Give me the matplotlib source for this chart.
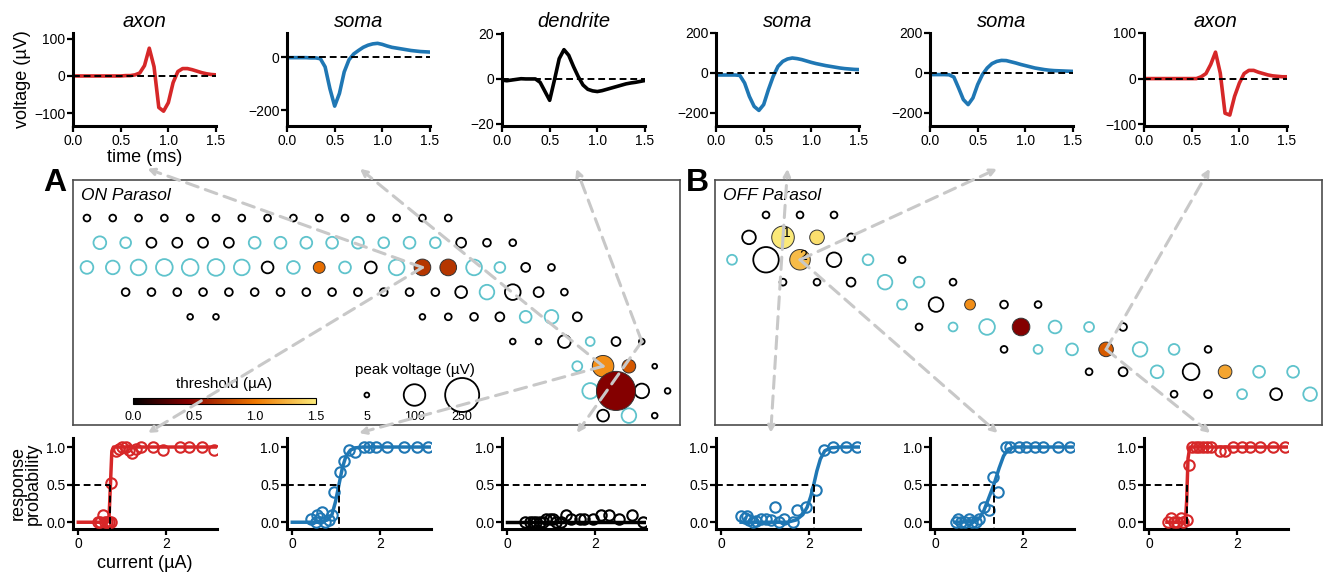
import numpy as np
import matplotlib
matplotlib.use("Agg")
import matplotlib.pyplot as plt
from matplotlib.colors import LinearSegmentedColormap, Normalize
from matplotlib.cm import ScalarMappable
from matplotlib.patches import ConnectionPatch

plt.rcParams['font.family'] = ['Liberation Sans', 'DejaVu Sans']

# ---------------- waveforms (time in ms, voltage in µV) ----------------
wave_time = [0.0, 0.05, 0.1, 0.15, 0.2, 0.25, 0.3, 0.35, 0.4, 0.45, 0.5, 0.55, 0.6,
             0.65, 0.7, 0.75, 0.8, 0.85, 0.9, 0.95, 1.0, 1.05, 1.1, 1.15, 1.2, 1.25,
             1.3, 1.35, 1.4, 1.45, 1.5]
wave_axon_on = [0, 0, 0, 0, 0, 0, 0, 0, 0, 0, 0, 1, 1,
                3, 8, 28, 75, 25, -85, -95, -72, -18, 12, 20, 20, 17,
                13, 9, 6, 4, 3]
wave_soma_on = [-2, -2, -2, -2, -2, -3, -3, -6, -37, -119, -185, -137, -56,
                -10, 12, 25, 37, 45, 50, 52, 48, 42, 37, 34, 31, 28,
                25, 23, 21, 20, 19]
wave_dend_on = [-0.5, -0.8, -0.5, -0.2, 0.1, 0, 0, 0, -1.5, -5.5, -9.5, -0.5, 9,
                13, 10.5, 5.5, 1, -2.7, -4.6, -5.3, -5.6, -5.2, -4.6, -4, -3.4, -2.8,
                -2.2, -1.8, -1.5, -1.1, -0.7]
wave_soma1_off = [-10, -10, -10, -10, -10, -12, -50, -117, -167, -187, -158, -83, -17,
                  33, 58, 70, 75, 72, 67, 60, 53, 47, 42, 37, 33, 29,
                  25, 22, 20, 18, 17]
wave_soma2_off = [-8, -8, -8, -8, -9, -20, -75, -133, -158, -125, -58, -8, 25,
                  47, 58, 63, 62, 56, 50, 43, 37, 31, 25, 21, 17, 14,
                  12, 11, 10, 9, 8]
wave_axon_off = [0, 0, 0, 0, 0, 0, 0, 0, 0, 0, 0, 0, 4,
                 11, 31, 58, 12, -76, -80, -39, -10, 11, 18, 18, 14, 11,
                 8, 6, 5, 4, 4]

wave_titles = ['axon', 'soma', 'dendrite', 'soma', 'soma', 'axon']
wave_yticks = [[-100, 0, 100], [-200, 0], [-20, 0, 20], [-200, 0, 200], [-200, 0, 200], [-100, 0, 100]]

# ---------------- response curves (current in µA) ----------------
resp_cur_axon_on = [0.45, 0.5, 0.55, 0.6, 0.65, 0.7, 0.74, 0.75, 0.85, 0.92, 1.0, 1.08,
                    1.15, 1.22, 1.3, 1.42, 1.7, 1.92, 2.3, 2.52, 2.8, 3.08]
resp_prob_axon_on = [0, 0, 0.09, 0, 0, 0, 0, 0.52, 0.95, 0.98, 1, 1,
                     0.96, 0.92, 0.98, 1, 1, 0.96, 1, 1, 1, 0.96]
resp_cur_soma_on = [0.42, 0.53, 0.55, 0.64, 0.68, 0.75, 0.83, 0.9, 0.94, 1.08, 1.18, 1.28,
                    1.43, 1.62, 1.74, 1.89, 2.15, 2.53, 2.83, 3.09]
resp_prob_soma_on = [0.04, 0, 0.09, 0.06, 0.13, 0, 0.03, 0.09, 0.4, 0.67, 0.82, 0.96,
                     0.94, 1, 1, 1, 1, 1, 1, 1]
resp_cur_dend_on = [0.4, 0.51, 0.59, 0.66, 0.74, 0.81, 0.89, 0.96, 1.04, 1.11, 1.21, 1.34,
                    1.45, 1.64, 1.75, 1.94, 2.13, 2.32, 2.54, 2.84, 3.09]
resp_prob_dend_on = [0, 0, 0, 0, 0, 0, 0.04, 0.04, 0.04, 0, 0, 0.09,
                     0.04, 0.04, 0.04, 0.04, 0.09, 0.09, 0.04, 0.09, 0]
resp_cur_soma1_off = [0.44, 0.53, 0.59, 0.64, 0.72, 0.79, 0.91, 1.02, 1.13, 1.21, 1.32, 1.43,
                      1.62, 1.72, 1.92, 2.15, 2.34, 2.53, 2.83, 3.09]
resp_prob_soma1_off = [0.08, 0.06, 0.08, 0.03, 0, 0.02, 0.04, 0.04, 0.03, 0.2, 0, 0.04,
                       0, 0.16, 0.2, 0.43, 0.96, 1, 1, 1]
resp_cur_soma2_off = [0.46, 0.52, 0.59, 0.67, 0.76, 0.83, 0.93, 1.0, 1.11, 1.22, 1.31, 1.42,
                      1.61, 1.7, 1.89, 2.07, 2.26, 2.44, 2.78, 3.05]
resp_prob_soma2_off = [0, 0.04, 0, 0, 0.04, 0, 0, 0.04, 0.2, 0.16, 0.6, 0.4,
                       1, 1, 1, 1, 1, 1, 1, 1]
resp_cur_axon_off = [0.43, 0.5, 0.56, 0.64, 0.71, 0.77, 0.85, 0.9, 0.97, 1.05, 1.12, 1.22,
                     1.31, 1.4, 1.61, 1.72, 1.91, 2.1, 2.28, 2.51, 2.81, 3.09]
resp_prob_axon_off = [0, 0.06, 0, 0, 0.06, 0, 0.03, 0.76, 1, 1, 1, 1,
                      1, 1, 0.95, 0.95, 1, 1, 1, 1, 1, 1]

# fitted curves
fit_cur_axon_on = [0, 0.66, 0.70, 0.73, 0.76, 0.80, 3.15]
fit_prob_axon_on = [0, 0, 0.08, 0.5, 0.92, 1.0, 1.0]
fit_cur_soma_on = [0, 0.6, 0.8, 0.9, 0.98, 1.06, 1.14, 1.22, 1.32, 1.45, 1.6, 3.15]
fit_prob_soma_on = [0, 0, 0.03, 0.1, 0.27, 0.5, 0.73, 0.88, 0.96, 0.99, 1.0, 1.0]
fit_cur_dend_on = [0, 3.15]
fit_prob_dend_on = [0, 0]
fit_cur_soma1_off = [0.45, 1.5, 1.7, 1.85, 1.95, 2.03, 2.1, 2.17, 2.25, 2.35, 2.5, 2.7, 3.15]
fit_prob_soma1_off = [0, 0, 0.03, 0.1, 0.2, 0.34, 0.5, 0.68, 0.84, 0.95, 0.99, 1.0, 1.0]
fit_cur_soma2_off = [0.45, 0.9, 1.0, 1.1, 1.2, 1.33, 1.45, 1.55, 1.65, 1.8, 3.15]
fit_prob_soma2_off = [0, 0.01, 0.05, 0.15, 0.3, 0.5, 0.72, 0.88, 0.97, 1.0, 1.0]
fit_cur_axon_off = [0.4, 0.82, 0.85, 0.86, 0.88, 0.92, 3.15]
fit_prob_axon_off = [0, 0, 0.3, 0.5, 0.85, 1.0, 1.0]

thresholds = [0.73, 1.06, np.nan, 2.1, 1.33, 0.86]

# ---------------- electrode maps ----------------
# ON parasol (panel A): column / row on the hexagonal array, kind (k open black,
# c open cyan, f activated), peak voltage (µV), threshold of activated electrodes (µA)
on_col = [0, 1, 2, 3, 4, 5, 6, 7, 8, 9, 10, 11, 12, 13, 14,
          0.5, 1.5, 2.5, 3.5, 4.5, 5.5, 6.5, 7.5, 8.5, 9.5, 10.5, 11.5, 12.5, 13.5, 14.5, 15.5, 16.5,
          0, 1, 2, 3, 4, 5, 6, 7, 8, 9, 10, 11, 12, 13, 14, 15, 16, 17, 18,
          1.5, 2.5, 3.5, 4.5, 5.5, 6.5, 7.5, 8.5, 9.5, 10.5, 11.5, 12.5, 13.5, 14.5, 15.5, 16.5, 17.5, 18.5,
          4, 5, 13, 14, 15, 16, 17, 18, 19,
          16.5, 17.5, 18.5, 19.5, 20.5, 21.5,
          19, 20, 21, 22,
          19.5, 20.5, 21.5, 22.5,
          20, 21, 22]
on_row = [0] * 15 + [1] * 17 + [2] * 19 + [3] * 18 + [4] * 9 + [5] * 6 + [6] * 4 + [7] * 4 + [8] * 3
on_kind = ("kkkkkkkkkkkkkkk" + "cckkkkcccccccckkk" + "ccccccckcfckcffcckk" +
           "kkkkkkkkkkkkkkckkk" + "kkkkkkcck" + "kkkckk" + "cffk" + "cfkk" + "kck")
on_peak = [10, 10, 10, 10, 10, 10, 10, 10, 10, 10, 10, 10, 10, 10, 10,
           35, 25, 21, 21, 21, 21, 30, 30, 30, 30, 30, 25, 30, 25, 21, 13, 10,
           35, 40, 53, 60, 60, 60, 53, 30, 35, 30, 30, 30, 53, 60, 60, 53, 25, 17, 10,
           13, 13, 13, 13, 13, 13, 13, 13, 13, 13, 13, 13, 13, 30, 46, 53, 21, 10,
           7, 7, 7, 10, 13, 17, 30, 40, 17,
           7, 7, 35, 17, 17, 7,
           21, 100, 40, 5,
           53, 330, 46, 7,
           30, 46, 7]
on_thr = [0.95, 0.7, 0.7, 1.1, 0.85, 0.45]

# OFF parasol (panel B)
off_col = [1, 2, 3,
           0.5, 1.5, 2.5, 3.5,
           0, 1, 2, 3, 4, 5,
           1.5, 2.5, 3.5, 4.5, 5.5, 6.5,
           5, 6, 7, 8, 9,
           5.5, 6.5, 7.5, 8.5, 9.5, 10.5, 11.5,
           8, 9, 10, 11, 12, 13, 14,
           10.5, 11.5, 12.5, 13.5, 14.5, 15.5, 16.5,
           13, 14, 15, 16, 17]
off_row = [0] * 3 + [1] * 4 + [2] * 6 + [3] * 6 + [4] * 5 + [5] * 7 + [6] * 7 + [7] * 7 + [8] * 5
off_kind = ("kkk" + "kffk" + "ckfkck" + "kkkcck" + "ckfkk" + "kccfcck" + "kccfcck" +
            "kkckfcc" + "kkckc")
off_peak = [10, 10, 10,
            40, 110, 46, 13,
            21, 140, 91, 46, 25, 10,
            10, 10, 17, 46, 25, 10,
            21, 46, 25, 13, 10,
            10, 17, 53, 67, 35, 21, 13,
            10, 17, 30, 46, 46, 25, 10,
            10, 17, 35, 60, 40, 30, 30,
            10, 13, 21, 30, 40]
off_thr = [2.1, 1.45, 1.3, 1.1, 0.45, 0.87, 1.2]

# electrodes whose waveform / response curve is shown (col, row)
on_links = [(13, 2), (20, 6), (21.5, 5)]
off_links = [(1.5, 1), (2, 2), (11, 6)]
off_numbered = [(1.5, 1, '1'), (2, 2, '2')]

legend_peaks = [5, 100, 250]
cbar_ticks = [0.0, 0.5, 1.0, 1.5]

# ---------------- styling ----------------
W, H = 1326, 575
RED = '#d62728'
BLUE = '#1f77b4'
CYAN = '#5fc3cc'
ARROW = '#c8c8c8'
SIZE_SCALE = 2.4
cmap = LinearSegmentedColormap.from_list(
    'thr', [(0, '#000000'), (0.3, '#850000'), (0.67, '#f07800'), (1.0, '#fbe979')])
norm = Normalize(0, 1.5)

fig = plt.figure(figsize=(W / 100, H / 100), dpi=100)


def px_axes(left, top, width, height):
    return fig.add_axes([left / W, 1 - (top + height) / H, width / W, height / H])


def style_axes(ax):
    for side in ('top', 'right'):
        ax.spines[side].set_visible(False)
    for side in ('left', 'bottom'):
        ax.spines[side].set_linewidth(2.2)
    ax.tick_params(width=1.6, length=4, labelsize=10, pad=1.5)


col_left = [73, 287, 502, 716, 930, 1144]
wave_series = [wave_axon_on, wave_soma_on, wave_dend_on, wave_soma1_off, wave_soma2_off, wave_axon_off]
wave_colors = [RED, BLUE, 'black', BLUE, BLUE, RED]
wave_ylim = [(-135, 116), (-260, 91), (-20.9, 20.4), (-265, 200), (-265, 200), (-104, 100)]

top_axes = []
for i in range(6):
    ax = px_axes(col_left[i], 33, 143, 93)
    style_axes(ax)
    ax.plot(wave_time, wave_series[i], color=wave_colors[i], lw=2.6, solid_capstyle='round')
    ax.axhline(0, color='black', lw=1.4, ls=(0, (3.5, 2)), zorder=3)
    ax.set_xlim(0, 1.5)
    ax.set_ylim(*wave_ylim[i])
    ax.set_xticks([0, 0.5, 1.0, 1.5])
    ax.set_xticklabels(['0.0', '0.5', '1.0', '1.5'])
    ax.set_yticks(wave_yticks[i])
    ax.set_title(wave_titles[i], style='italic', fontsize=14.5, pad=4.5)
    top_axes.append(ax)
top_axes[0].set_ylabel('voltage (µV)', fontsize=13, labelpad=2)
top_axes[0].set_xlabel('time (ms)', fontsize=13, labelpad=1)

resp_cur = [resp_cur_axon_on, resp_cur_soma_on, resp_cur_dend_on,
            resp_cur_soma1_off, resp_cur_soma2_off, resp_cur_axon_off]
resp_prob = [resp_prob_axon_on, resp_prob_soma_on, resp_prob_dend_on,
             resp_prob_soma1_off, resp_prob_soma2_off, resp_prob_axon_off]
fit_cur = [fit_cur_axon_on, fit_cur_soma_on, fit_cur_dend_on,
           fit_cur_soma1_off, fit_cur_soma2_off, fit_cur_axon_off]
fit_prob = [fit_prob_axon_on, fit_prob_soma_on, fit_prob_dend_on,
            fit_prob_soma1_off, fit_prob_soma2_off, fit_prob_axon_off]

bottom_axes = []
for i in range(6):
    ax = px_axes(col_left[i], 438, 144, 91)
    style_axes(ax)
    xlo, ylo = -0.12, -0.09
    ax.plot(fit_cur[i], fit_prob[i], color=wave_colors[i], lw=2.5, zorder=2)
    ax.plot(resp_cur[i], resp_prob[i], 'o', mfc='none', mec=wave_colors[i], ms=7.5, mew=1.5, zorder=3)
    thr = thresholds[i]
    if np.isnan(thr):
        ax.plot([xlo, 3.15], [0.5, 0.5], color='black', lw=1.4, ls=(0, (3.5, 2)), zorder=4)
    else:
        ax.plot([xlo, thr], [0.5, 0.5], color='black', lw=1.4, ls=(0, (3.5, 2)), zorder=4)
        ax.plot([thr, thr], [0.5, ylo], color='black', lw=1.4, ls=(0, (3.5, 2)), zorder=4)
    ax.set_xlim(xlo, 3.15)
    ax.set_ylim(ylo, 1.12)
    ax.set_xticks([0, 2])
    ax.set_yticks([0, 0.5, 1.0])
    ax.set_yticklabels(['0.0', '0.5', '1.0'])
    bottom_axes.append(ax)
bottom_axes[0].set_ylabel('response\nprobability', fontsize=13, labelpad=3, linespacing=0.85)
bottom_axes[0].set_xlabel('current (µA)', fontsize=13, labelpad=3)


def draw_map(ax, cols, rows, kinds, peaks, thr):
    cols = np.array(cols, dtype=float)
    rows = np.array(rows, dtype=float)
    kinds = np.array(list(kinds))
    sizes = SIZE_SCALE * np.array(peaks, dtype=float)
    for kind, color in (('k', 'black'), ('c', CYAN)):
        m = kinds == kind
        ax.scatter(cols[m], rows[m], s=sizes[m], facecolors='none', edgecolors=color,
                   linewidths=1.3, zorder=2)
    m = kinds == 'f'
    ax.scatter(cols[m], rows[m], s=sizes[m], c=thr, cmap=cmap, norm=norm,
               edgecolors='#333333', linewidths=0.7, zorder=3)
    ax.set_xticks([])
    ax.set_yticks([])
    for sp in ax.spines.values():
        sp.set_color('#4d4d4d')
        sp.set_linewidth(1.2)


map_a = px_axes(73, 180, 607, 245)
draw_map(map_a, on_col, on_row, on_kind, on_peak, on_thr)
map_a.set_xlim(-0.54, 22.98)
map_a.set_ylim(8.38, -1.54)
map_a.text(0.013, 0.935, 'ON Parasol', transform=map_a.transAxes, style='italic',
           fontsize=12.5, va='center', ha='left')

map_b = px_axes(715, 180, 607, 245)
draw_map(map_b, off_col, off_row, off_kind, off_peak, off_thr)
map_b.set_xlim(-0.5, 17.35)
map_b.set_ylim(9.375, -1.56)
map_b.text(0.013, 0.935, 'OFF Parasol', transform=map_b.transAxes, style='italic',
           fontsize=12.5, va='center', ha='left')
for c, r, lab in off_numbered:
    map_b.annotate(lab, (c, r), xytext=(2.5, 3), textcoords='offset points',
                   ha='center', va='center', fontsize=10, zorder=4)

fig.text(55 / W, 1 - 183 / H, 'A', fontsize=23, fontweight='bold', ha='center', va='center')
fig.text(697 / W, 1 - 183 / H, 'B', fontsize=23, fontweight='bold', ha='center', va='center')

# threshold colorbar
cax = px_axes(133, 398, 183, 6)
cb = fig.colorbar(ScalarMappable(norm=norm, cmap=cmap), cax=cax, orientation='horizontal')
cb.set_ticks(cbar_ticks)
cb.set_ticklabels(['%.1f' % v for v in cbar_ticks])
cb.outline.set_linewidth(0.8)
cax.tick_params(length=0, labelsize=9, pad=5)
cax.set_title('threshold (µA)', fontsize=11, pad=7)

# peak voltage size legend
lax = px_axes(343, 385, 143, 20)
lax.scatter(np.arange(len(legend_peaks)), np.zeros(len(legend_peaks)),
            s=SIZE_SCALE * np.array(legend_peaks), facecolors='none', edgecolors='black',
            linewidths=1.3, clip_on=False)
lax.set_xlim(-0.5, len(legend_peaks) - 0.5)
lax.set_ylim(-1, 1)
lax.set_xticks(np.arange(len(legend_peaks)))
lax.set_xticklabels([str(v) for v in legend_peaks])
lax.set_yticks([])
lax.tick_params(length=0, labelsize=9, pad=4)
lax.set_frame_on(False)
lax.patch.set_alpha(0)
lax.set_title('peak voltage (µV)', fontsize=11, pad=8)

# dashed arrows linking electrodes to waveforms and response curves
top_fx = [0.52, 0.51, 0.52, 0.5, 0.47, 0.46]
bottom_fx = [0.52, 0.5, 0.52, 0.38, 0.47, 0.46]
links = [(map_a, c) for c in on_links] + [(map_b, c) for c in off_links]
for i, (mp, cell) in enumerate(links):
    for target, fy, fx in ((top_axes[i], -0.46, top_fx[i]), (bottom_axes[i], 1.055, bottom_fx[i])):
        con = ConnectionPatch(xyA=cell, coordsA=mp.transData, xyB=(fx, fy),
                              coordsB=target.transAxes, arrowstyle='-|>',
                              mutation_scale=10, color=ARROW, lw=2.2,
                              ls=(0, (4, 2.5)), zorder=5)
        fig.add_artist(con)

fig.savefig('out.png', dpi=100)
